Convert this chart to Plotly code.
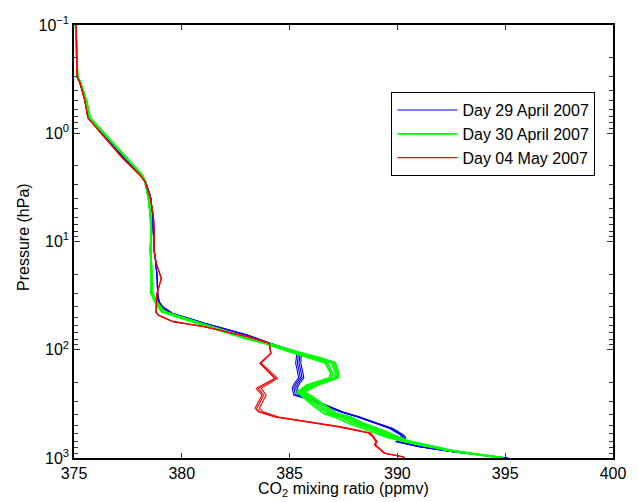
import plotly.graph_objects as go

# ---------------- data ----------------
x_tick_vals = [375, 380, 385, 390, 395, 400]
x_tick_text = ["375", "380", "385", "390", "395", "400"]
y_tick_vals = [0.1, 1, 10, 100, 1000]
y_tick_text = ["10<sup>−1</sup>", "10<sup>0</sup>", "10<sup>1</sup>", "10<sup>2</sup>", "10<sup>3</sup>"]
y_minor_vals = [0.2, 0.3, 0.4, 0.5, 0.6, 0.7, 0.8, 0.9,
                2, 3, 4, 5, 6, 7, 8, 9,
                20, 30, 40, 50, 60, 70, 80, 90,
                200, 300, 400, 500, 600, 700, 800, 900]

day_names = ["Day 29 April 2007", "Day 30 April 2007", "Day 04 May 2007"]

# Day 29 April 2007 (blue)
blue_p_upper = [0.1, 0.3, 0.34, 0.5, 0.72, 0.79, 1.0, 1.7, 2.43, 2.81, 3.86, 5.7, 8.3, 12, 16, 22, 30]
blue_x_upper = [375.10, 375.15, 375.27, 375.52, 375.66, 375.84, 376.32, 377.33, 378.10, 378.32,
                378.55, 378.65, 378.68, 378.72, 378.80, 378.86, 378.88]
blue_p_lower = [33, 36, 40, 46, 57, 73, 87, 104, 108, 120, 133, 150, 182, 205, 226, 262, 291,
                376, 415, 478, 532, 614, 654, 706, 787, 875, 985, 1000]
blue_m1 = [378.88, 378.91, 379.06, 379.51, 381.03, 383.00, 384.06, 385.27, 385.41, 385.38, 385.36,
           385.42, 385.50, 385.30, 385.20, 385.27, 386.03, 387.40, 388.15, 389.00, 389.67, 390.20,
           390.27, 389.97, 391.03, 392.55, 395.00, 395.10]
blue_m2 = [378.90, 378.94, 379.09, 379.54, 381.05, 383.02, 384.08, 385.33, 385.48, 385.46, 385.44,
           385.50, 385.58, 385.38, 385.28, 385.36, 386.08, 387.44, 388.19, 389.04, 389.72, 390.25,
           390.33, 390.03, 391.07, 392.58, 395.03, 395.12]
blue_m3 = [378.92, 378.96, 379.12, 379.57, 381.08, 383.05, 384.10, 385.38, 385.55, 385.53, 385.52,
           385.58, 385.66, 385.46, 385.36, 385.44, 386.13, 387.48, 388.23, 389.08, 389.77, 390.30,
           390.39, 390.10, 391.10, 392.60, 395.05, 395.14]
blue_m4 = [378.86, 378.89, 379.03, 379.48, 381.00, 382.98, 384.04, 385.22, 385.34, 385.30, 385.28,
           385.34, 385.42, 385.22, 385.12, 385.19, 385.98, 387.36, 388.11, 388.96, 389.62, 390.15,
           390.21, 389.92, 390.99, 392.52, 394.98, 395.08]

# Day 30 April 2007 (green)
green_p_upper = [0.1, 0.3, 0.34, 0.5, 0.72, 0.79, 1.0, 1.7, 2.43, 2.81, 3.86, 5.7, 8.3, 12, 16, 22]
green_x_upper = [375.08, 375.16, 375.30, 375.57, 375.74, 375.92, 376.42, 377.44, 378.16, 378.30,
                 378.45, 378.55, 378.58, 378.55, 378.58, 378.60]
green_p_lower = [30, 37, 44.5, 57, 78, 87, 105, 118, 132, 164, 182, 212, 246, 270, 330, 390,
                 420, 475, 551, 640, 700, 860, 980, 1000]
green_m1 = [378.60, 378.83, 379.14, 380.80, 383.00, 383.90, 385.27, 386.20, 386.95, 387.14, 387.10,
            386.05, 385.50, 385.82, 386.40, 386.95, 387.60, 388.14, 389.05, 389.80, 390.40, 392.55,
            394.68, 394.85]
green_m2 = [378.58, 378.80, 379.10, 380.75, 382.95, 383.85, 385.15, 386.00, 386.75, 387.00, 386.95,
            385.90, 385.40, 385.70, 386.25, 386.80, 387.35, 387.95, 388.85, 389.65, 390.30, 392.50,
            394.65, 394.82]
green_m3 = [378.62, 378.86, 379.18, 380.85, 383.05, 383.95, 385.35, 386.32, 387.05, 387.22, 387.18,
            386.20, 385.62, 385.95, 386.55, 387.10, 387.75, 388.30, 389.20, 389.95, 390.50, 392.60,
            394.72, 394.88]
green_m4 = [378.56, 378.78, 379.06, 380.70, 382.90, 383.80, 385.05, 385.90, 386.65, 386.90, 386.85,
            385.80, 385.35, 385.60, 386.10, 386.60, 387.10, 387.70, 388.60, 389.50, 390.20, 392.45,
            394.62, 394.80]
green_m5 = [378.64, 378.88, 379.20, 380.90, 383.08, 384.00, 385.40, 386.40, 387.12, 387.28, 387.25,
            386.30, 385.70, 386.05, 386.65, 387.20, 387.85, 388.40, 389.30, 390.05, 390.55, 392.62,
            394.75, 394.90]

# Day 04 May 2007 (red)
red_p_upper = [0.1, 0.3, 0.34, 0.5, 0.72, 0.79, 1.0, 1.7, 2.43, 2.81, 3.86, 5.7, 8.3, 12, 16, 22, 30]
red_x_upper = [375.10, 375.14, 375.27, 375.50, 375.64, 375.80, 376.25, 377.25, 378.05, 378.30,
               378.53, 378.68, 378.73, 378.70, 378.82, 379.05, 378.85]
red_p_lower = [33, 45, 48, 55, 61.4, 75.5, 87, 108, 133, 184, 227, 262, 347, 374, 418, 514, 588,
               636, 706, 758, 905, 973, 1000]
red_m1 = [378.83, 378.80, 378.91, 379.59, 381.03, 383.00, 384.06, 384.14, 383.68, 384.44, 383.68,
          383.91, 383.60, 383.76, 384.50, 387.40, 388.77, 388.91, 389.06, 388.99, 389.44, 390.27, 390.35]
red_m2 = [378.83, 378.80, 378.91, 379.60, 381.05, 383.02, 384.05, 384.12, 383.62, 384.35, 383.55,
          383.80, 383.48, 383.62, 384.40, 387.30, 388.70, 388.88, 389.02, 388.95, 389.40, 390.25, 390.33]
red_m3 = [378.84, 378.82, 378.92, 379.62, 381.08, 383.04, 384.06, 384.13, 383.64, 384.30, 383.45,
          383.72, 383.40, 383.55, 384.30, 387.20, 388.65, 388.85, 389.00, 388.93, 389.38, 390.22, 390.30]

# ---------------- figure ----------------
FONT = "Liberation Sans, Arial, sans-serif"
fig = go.Figure()

groups = [
    (day_names[0], "#0000FF", 1.1, blue_p_upper, blue_x_upper, blue_p_lower,
     [blue_m1, blue_m2, blue_m3, blue_m4]),
    (day_names[1], "#00FF00", 1.8, green_p_upper, green_x_upper, green_p_lower,
     [green_m1, green_m2, green_m3, green_m4, green_m5]),
    (day_names[2], "#FF0000", 1.1, red_p_upper, red_x_upper, red_p_lower,
     [red_m1, red_m2, red_m3]),
]

for name, color, width, pu, xu, pl, members in groups:
    for i, m in enumerate(members):
        fig.add_trace(go.Scatter(
            x=xu + m, y=pu + pl, mode="lines",
            line=dict(color=color, width=width),
            name=name, showlegend=(i == 0),
        ))

fig.update_layout(
    width=638, height=502,
    margin=dict(l=74, r=14, t=25, b=44),
    paper_bgcolor="white", plot_bgcolor="white",
    font=dict(family=FONT, size=16, color="black"),
    showlegend=True,
    legend=dict(
        x=0.589, y=0.845, xanchor="left", yanchor="top",
        bgcolor="white", bordercolor="black", borderwidth=1,
        font=dict(family=FONT, size=16, color="black"),
        tracegroupgap=0, itemwidth=60,
    ),
)

fig.update_xaxes(
    range=[375, 400], tickmode="array", tickvals=x_tick_vals, ticktext=x_tick_text,
    ticks="inside", ticklen=5, tickwidth=1, tickcolor="#333333",
    showline=True, linecolor="black", linewidth=1.5, mirror="ticks",
    showgrid=False, zeroline=False,
    tickfont=dict(family=FONT, size=16, color="black"),
)
fig.update_yaxes(
    type="log", range=[3, -1], tickmode="array", tickvals=y_tick_vals, ticktext=y_tick_text,
    ticks="inside", ticklen=6, tickwidth=1, tickcolor="#333333",
    minor=dict(ticks="inside", ticklen=4, tickwidth=1, tickcolor="#333333",
               tickmode="array", tickvals=y_minor_vals, showgrid=False),
    showline=True, linecolor="black", linewidth=1.5, mirror="ticks",
    showgrid=False, zeroline=False,
    tickfont=dict(family=FONT, size=16, color="black"),
)

fig.add_annotation(
    text="CO<sub>2</sub> mixing ratio (ppmv)", xref="paper", yref="paper",
    x=0.5, y=-0.072, xanchor="center", yanchor="middle", showarrow=False,
    font=dict(family=FONT, size=16, color="black"),
)
fig.add_annotation(
    text="Pressure (hPa)", xref="paper", yref="paper", textangle=-90,
    x=-0.095, y=0.51, xanchor="center", yanchor="middle", showarrow=False,
    font=dict(family=FONT, size=16, color="black"),
)

fig.write_html("out.html")
